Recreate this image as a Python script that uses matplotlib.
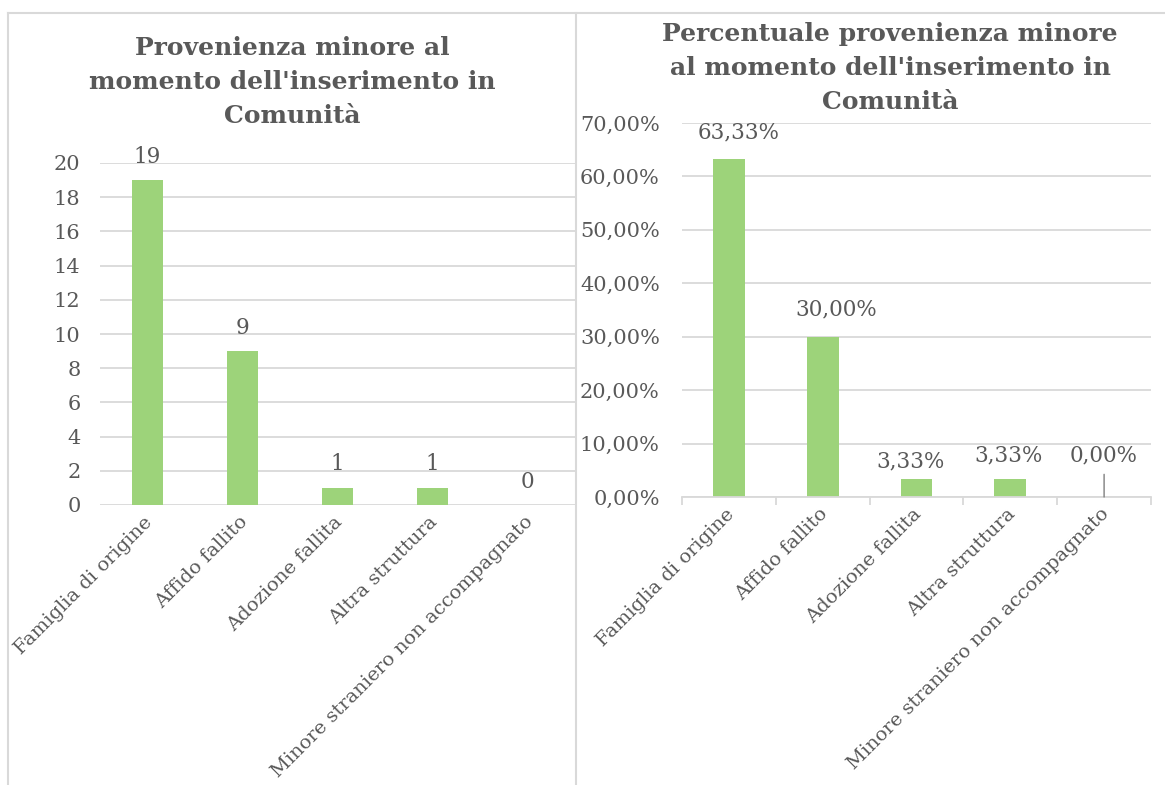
import matplotlib
matplotlib.use("Agg")
import matplotlib.pyplot as plt
from matplotlib.lines import Line2D
from matplotlib.transforms import ScaledTranslation

categories = ["Famiglia di origine", "Affido fallito", "Adozione fallita",
              "Altra struttura", "Minore straniero non accompagnato"]
counts = [19, 9, 1, 1, 0]
percentages = [63.33, 30.00, 3.33, 3.33, 0.00]
count_ticks = [0, 2, 4, 6, 8, 10, 12, 14, 16, 18, 20]
pct_ticks = [0, 10, 20, 30, 40, 50, 60, 70]

title_left = "Provenienza minore al\nmomento dell'inserimento in\nComunità"
title_right = "Percentuale provenienza minore\nal momento dell'inserimento in\nComunità"

W, H = 1165, 785
TEXT = "#595959"
GRID = "#D9D9D9"
BAR = "#9DD37A"
FONT = "DejaVu Serif"

plt.rcParams["font.family"] = FONT

fig = plt.figure(figsize=(W / 100, H / 100), dpi=100)

def fx(px):
    return px / W

def fy(py):
    return 1 - py / H

# chart frames
for seg in [((8, 8), (13, 790)), ((8, 1170), (13, 13)), ((576, 576), (13, 790))]:
    fig.add_artist(Line2D([fx(seg[0][0]), fx(seg[0][1])],
                          [fy(seg[1][0]), fy(seg[1][1])],
                          color=GRID, lw=1.5, transform=fig.transFigure))

def pct_fmt(v):
    return f"{v:.2f}".replace(".", ",") + "%"

def style_axes(ax, ypad):
    for s in ax.spines.values():
        s.set_visible(False)
    ax.set_axisbelow(True)
    ax.yaxis.grid(True, color=GRID, lw=1.3)
    ax.tick_params(axis="y", length=0, labelsize=15, labelcolor=TEXT, pad=ypad)
    ax.tick_params(axis="x", length=0, labelsize=14, labelcolor=TEXT, pad=5)
    shift = ScaledTranslation(-4 / 100, -1 / 100, fig.dpi_scale_trans)
    for lab in ax.get_xticklabels():
        lab.set_transform(lab.get_transform() + shift)

x = list(range(len(categories)))

# left: counts
axL = fig.add_axes([fx(100), fy(505), fx(575) - fx(100), fy(163) - fy(505)])
axL.bar(x, counts, width=0.32, color=BAR)
axL.set_xlim(-0.5, len(categories) - 0.5)
axL.set_ylim(0, 20)
axL.set_yticks(count_ticks)
axL.set_xticks(x)
axL.set_xticklabels(categories, rotation=45, ha="right", rotation_mode="anchor")
style_axes(axL, 14)
for xi, v in zip(x, counts):
    axL.annotate(str(v), (xi, v), xytext=(0, 9), textcoords="offset points",
                 ha="center", va="bottom", fontsize=15.5, color=TEXT)
fig.text(fx(292), fy(82), title_left, ha="center", va="center",
         fontsize=18, fontweight="bold", color=TEXT, linespacing=1.52)

# right: percentages
axR = fig.add_axes([fx(682), fy(497), fx(1151) - fx(682), fy(123) - fy(497)])
axR.bar(x, percentages, width=0.34, color=BAR)
axR.set_xlim(-0.5, len(categories) - 0.5)
axR.set_ylim(0, 70)
axR.set_yticks(pct_ticks)
axR.set_yticklabels([pct_fmt(t) for t in pct_ticks])
axR.set_xticks(x)
axR.set_xticklabels(categories, rotation=45, ha="right", rotation_mode="anchor")
style_axes(axR, 16)
axR.spines["bottom"].set_visible(True)
axR.spines["bottom"].set_color(GRID)
axR.spines["bottom"].set_linewidth(1.3)
axR.set_xticks([i - 0.5 for i in range(len(categories) + 1)], minor=True)
axR.tick_params(axis="x", which="minor", length=6, color=GRID, width=1.3)
label_offsets = [(7, 11), (10, 12), (-4, 5), (-1.5, 9), (0, 0)]
for xi, v, off in zip(x, percentages, label_offsets):
    if v == 0:
        axR.annotate(pct_fmt(v), (xi, v), xytext=(xi, 5.8),
                     textcoords="data", ha="center", va="bottom",
                     fontsize=15.5, color=TEXT,
                     arrowprops=dict(arrowstyle="-", color="#7F7F7F", lw=1,
                                     shrinkA=4, shrinkB=0))
    else:
        axR.annotate(pct_fmt(v), (xi, v), xytext=off, textcoords="offset points",
                     ha="center", va="bottom", fontsize=15.5, color=TEXT)
fig.text(fx(890), fy(68), title_right, ha="center", va="center",
         fontsize=18, fontweight="bold", color=TEXT, linespacing=1.52)

fig.savefig("out.png", dpi=100, facecolor="white")
